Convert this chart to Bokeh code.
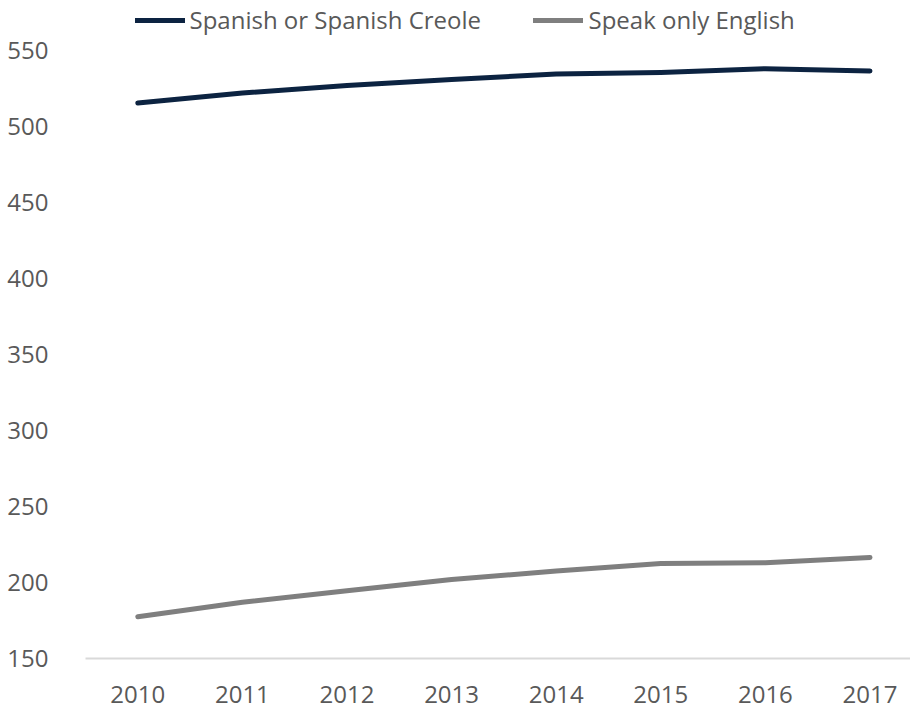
from bokeh.plotting import figure
from bokeh.models import Range1d, FixedTicker, Legend, LegendItem, ColumnDataSource
from bokeh.embed import file_html
from bokeh.resources import INLINE

years = [2010, 2011, 2012, 2013, 2014, 2015, 2016, 2017]
year_labels = ["2010", "2011", "2012", "2013", "2014", "2015", "2016", "2017"]
spanish = [515.5, 522, 527, 531, 534.5, 535.5, 538, 536.5]
english = [177.5, 187, 194.5, 202, 207.5, 212.5, 213, 216.5]
y_ticks = [150, 200, 250, 300, 350, 400, 450, 500, 550]

W, H = 910, 708
LEFT, BOTTOM = 85, 50
frame_h = H - BOTTOM
px_per_unit = 1.52
px_per_year = 104.6
frame_w = W - LEFT

p = figure(width=W, height=H, output_backend="svg", toolbar_location=None,
           x_range=Range1d(2009.5, 2009.5 + frame_w / px_per_year),
           y_range=Range1d(150, 150 + frame_h / px_per_unit),
           min_border_left=LEFT, min_border_right=0, min_border_top=0,
           min_border_bottom=BOTTOM)
p.outline_line_color = None
p.grid.visible = False

src = ColumnDataSource(dict(x=years, sp=spanish, en=english))
r1 = p.line("x", "sp", source=src, line_color="#0C2341", line_width=5, line_cap="round", line_join="round")
r2 = p.line("x", "en", source=src, line_color="#7F7F7F", line_width=5, line_cap="round", line_join="round")

font = "Open Sans"
p.yaxis.ticker = FixedTicker(ticks=y_ticks)
p.yaxis.axis_line_color = None
p.yaxis.major_tick_line_color = None
p.yaxis.minor_tick_line_color = None
p.yaxis.major_label_standoff = 31
p.yaxis.major_label_text_font = font
p.yaxis.major_label_text_font_size = "24px"
p.yaxis.major_label_text_color = "#595959"

p.xaxis.ticker = FixedTicker(ticks=years)
p.xaxis.major_label_overrides = {y: l for y, l in zip(years, year_labels)}
p.xaxis.axis_line_color = "#D9D9D9"
p.xaxis.axis_line_width = 2
p.xaxis.major_tick_line_color = None
p.xaxis.minor_tick_line_color = None
p.xaxis.major_label_standoff = 21
p.xaxis.major_label_text_font = font
p.xaxis.major_label_text_font_size = "24px"
p.xaxis.major_label_text_color = "#595959"

def mk_legend(label, r, x, standoff):
    lg = Legend(items=[LegendItem(label=label, renderers=[r])], location=(x, frame_h - 36),
                orientation="horizontal", padding=0, margin=0, spacing=0,
                glyph_width=50, glyph_height=24, label_height=24, label_standoff=standoff,
                background_fill_alpha=0, border_line_color=None,
                label_text_font=font, label_text_font_size="24px", label_text_color="#595959")
    p.add_layout(lg)

mk_legend("Spanish or Spanish Creole", r1, 49.5, 5)
mk_legend("Speak only English", r2, 447.5, 6)

open("out.html", "w").write(file_html(p, INLINE))
